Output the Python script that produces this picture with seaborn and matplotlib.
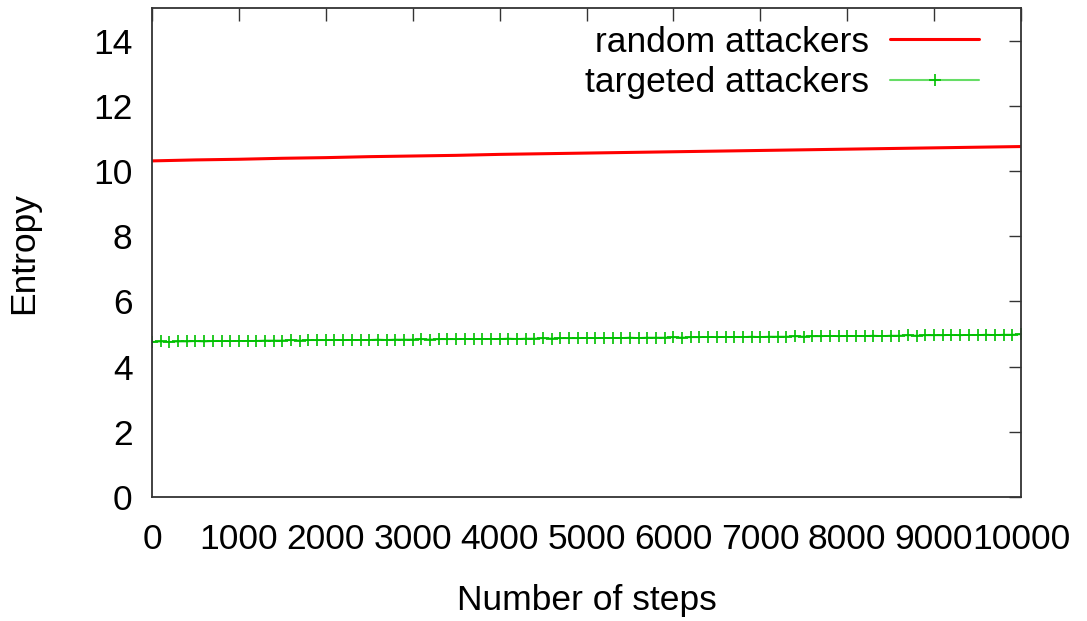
import matplotlib
matplotlib.use("Agg")
import matplotlib.pyplot as plt
import seaborn as sns
import pandas as pd

# ---- data ----
red_steps = [0, 500, 1000, 1500, 2000, 2500, 3000, 3500, 4000, 4500, 5000,
             5500, 6000, 6500, 7000, 7500, 8000, 8500, 9000, 9500, 10000]
random_entropy = [10.31, 10.34, 10.36, 10.39, 10.41, 10.44, 10.46, 10.48, 10.51, 10.53, 10.55,
                  10.57, 10.59, 10.61, 10.63, 10.65, 10.67, 10.69, 10.71, 10.73, 10.75]

green_steps = list(range(0, 10001, 100))
targeted_entropy = [
    4.76, 4.77, 4.76, 4.77, 4.77, 4.78, 4.77, 4.78, 4.78, 4.78,
    4.79, 4.79, 4.79, 4.80, 4.80, 4.80, 4.81, 4.80, 4.81, 4.81,
    4.81, 4.82, 4.81, 4.82, 4.82, 4.82, 4.83, 4.82, 4.83, 4.83,
    4.83, 4.84, 4.83, 4.84, 4.84, 4.84, 4.85, 4.84, 4.85, 4.85,
    4.85, 4.86, 4.85, 4.86, 4.86, 4.87, 4.86, 4.87, 4.87, 4.87,
    4.88, 4.87, 4.88, 4.88, 4.88, 4.89, 4.88, 4.89, 4.89, 4.89,
    4.90, 4.89, 4.90, 4.90, 4.91, 4.90, 4.91, 4.91, 4.91, 4.92,
    4.91, 4.92, 4.92, 4.92, 4.93, 4.92, 4.93, 4.93, 4.94, 4.93,
    4.94, 4.94, 4.94, 4.95, 4.94, 4.95, 4.95, 4.96, 4.95, 4.96,
    4.96, 4.96, 4.97, 4.96, 4.97, 4.97, 4.98, 4.97, 4.98, 4.98,
    4.99,
]
labels = ["random attackers", "targeted attackers"]
xticks = [0, 1000, 2000, 3000, 4000, 5000, 6000, 7000, 8000, 9000, 10000]
yticks = [0, 2, 4, 6, 8, 10, 12, 14]

df_red = pd.DataFrame({"steps": red_steps, "entropy": random_entropy})
df_green = pd.DataFrame({"steps": green_steps, "entropy": targeted_entropy})

sns.set_style("white")
plt.rcParams["font.family"] = ["Liberation Sans", "DejaVu Sans"]
plt.rcParams["text.color"] = "black"
plt.rcParams["axes.labelcolor"] = "black"
FS = 25.5

fig = plt.figure(figsize=(10.87, 6.21), dpi=100)
ax = fig.add_axes([152 / 1087, 1 - 497 / 621, (1021 - 152) / 1087, (497 - 8) / 621])

sns.lineplot(data=df_red, x="steps", y="entropy", ax=ax, color="#ff0000",
             linewidth=2.2, label=labels[0])
sns.lineplot(data=df_green, x="steps", y="entropy", ax=ax, color="#00c000",
             linewidth=1.2, label=labels[1])
gline = ax.lines[-1]
gline.set_linestyle("-")
gline.set_marker("+")
gline.set_markersize(9)
gline.set_markeredgewidth(1.2)
gline.set_markeredgecolor("#00c000")

ax.set_xlim(0, 10000)
ax.set_ylim(0, 15)
ax.set_xticks(xticks)
ax.set_xticklabels([str(t) for t in xticks], fontsize=FS)
ax.set_yticks(yticks)
ax.set_yticklabels([str(t) for t in yticks], fontsize=FS)
ax.tick_params(direction="in", length=9, width=1, colors="#333333",
               top=True, right=True, labelcolor="black")
ax.tick_params(axis="x", pad=19)
ax.tick_params(axis="y", pad=14)
for s in ax.spines.values():
    s.set_color("#333333")
    s.set_linewidth(1.3)
    s.set_visible(True)

ax.set_xlabel("Number of steps", fontsize=FS, labelpad=20, color="black")
ax.set_ylabel("Entropy", fontsize=FS, labelpad=38, color="black")

leg = ax.legend(loc="upper right", frameon=False, fontsize=FS, markerfirst=False,
                handlelength=2.5, handletextpad=0.6, labelspacing=0.22,
                borderaxespad=0.1, bbox_to_anchor=(0.972, 1.0))
for t in leg.get_texts():
    t.set_color("black")
lh = leg.get_lines()
lh[1].set_linestyle("-")
lh[1].set_color("#66dd66")
lh[1].set_linewidth(1.5)
lh[1].set_marker("+")
lh[1].set_markevery([1])
lh[1].set_markersize(9)
lh[1].set_markeredgecolor("#00c000")
lh[1].set_markeredgewidth(1.2)

fig.savefig("out.png", dpi=100)
